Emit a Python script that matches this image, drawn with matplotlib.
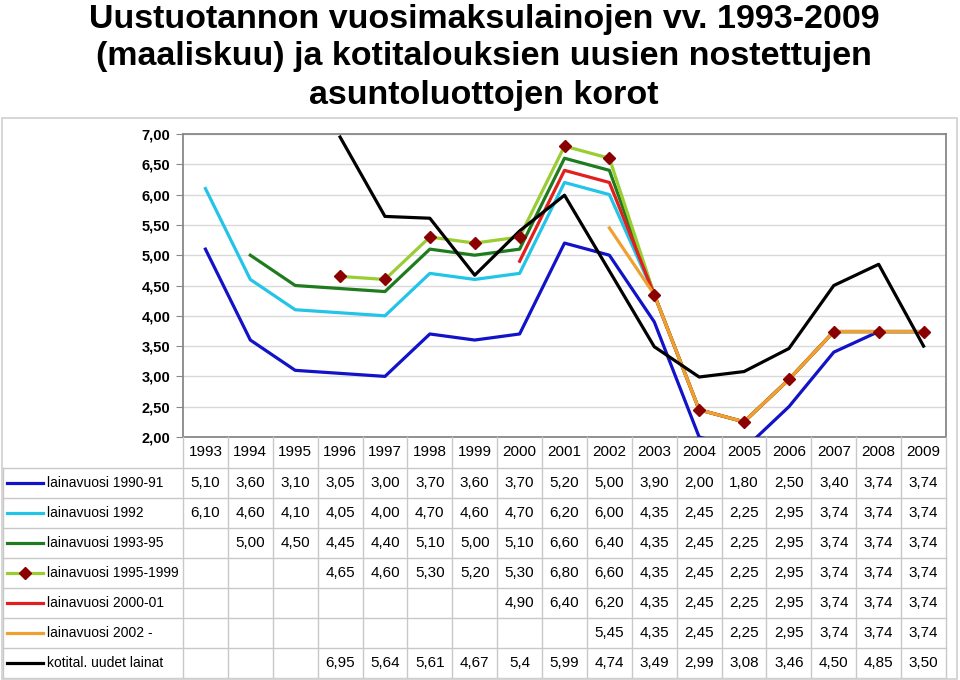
import numpy as np
import matplotlib
matplotlib.use("Agg")
import matplotlib.pyplot as plt
from matplotlib.patches import Rectangle

# --- data -------------------------------------------------------------
years = list(range(1993, 2010))
nan = np.nan

s_1990_91 = [5.10, 3.60, 3.10, 3.05, 3.00, 3.70, 3.60, 3.70, 5.20, 5.00, 3.90, 2.00, 1.80, 2.50, 3.40, 3.74, 3.74]
s_1992 = [6.10, 4.60, 4.10, 4.05, 4.00, 4.70, 4.60, 4.70, 6.20, 6.00, 4.35, 2.45, 2.25, 2.95, 3.74, 3.74, 3.74]
s_1993_95 = [nan, 5.00, 4.50, 4.45, 4.40, 5.10, 5.00, 5.10, 6.60, 6.40, 4.35, 2.45, 2.25, 2.95, 3.74, 3.74, 3.74]
s_1995_99 = [nan, nan, nan, 4.65, 4.60, 5.30, 5.20, 5.30, 6.80, 6.60, 4.35, 2.45, 2.25, 2.95, 3.74, 3.74, 3.74]
s_2000_01 = [nan, nan, nan, nan, nan, nan, nan, 4.90, 6.40, 6.20, 4.35, 2.45, 2.25, 2.95, 3.74, 3.74, 3.74]
s_2002 = [nan, nan, nan, nan, nan, nan, nan, nan, nan, 5.45, 4.35, 2.45, 2.25, 2.95, 3.74, 3.74, 3.74]
s_kotital = [nan, nan, nan, 6.95, 5.64, 5.61, 4.67, 5.4, 5.99, 4.74, 3.49, 2.99, 3.08, 3.46, 4.50, 4.85, 3.50]

names = ["lainavuosi 1990-91", "lainavuosi 1992", "lainavuosi 1993-95",
         "lainavuosi 1995-1999", "lainavuosi 2000-01", "lainavuosi 2002 -",
         "kotital. uudet lainat"]
series = [s_1990_91, s_1992, s_1993_95, s_1995_99, s_2000_01, s_2002, s_kotital]
colors = ["#1212C8", "#22C4E8", "#1E7B1E", "#9ACD32", "#E21F1F", "#F0A030", "#000000"]

title_lines = ["Uustuotannon vuosimaksulainojen vv. 1993-2009",
               "(maaliskuu) ja kotitalouksien uusien nostettujen",
               "asuntoluottojen korot"]


def fmt(v, name):
    # the table shows 5,4 (not 5,40) for one value of the last row
    if name == "kotital. uudet lainat" and v == 5.4:
        return "5,4"
    return ("%.2f" % v).replace(".", ",")


# --- layout (pixels) --------------------------------------------------
W, H = 960, 680
fx = lambda px: px / W
fy = lambda py: 1 - py / H
font = ["Liberation Sans", "DejaVu Sans"]
fs = 11

fig = plt.figure(figsize=(9.6, 6.8), dpi=100)

# outer chart frame
fig.patches.append(Rectangle((fx(2), fy(679)), fx(957) - fx(2), fy(118) - fy(679),
                             transform=fig.transFigure, fill=False,
                             edgecolor="#D0D0D0", lw=1.2))

for yb, txt in zip([28, 65, 104], title_lines):
    fig.text(fx(484), fy(yb), txt, ha="center", va="baseline",
             fontsize=24.5, fontweight="bold", family=font)

# chart
L, R, T, B = 183, 946, 134, 437
ax = fig.add_axes([fx(L), fy(B), fx(R) - fx(L), fy(T) - fy(B)])
x = np.arange(len(years))
for vals, c in zip(series, colors):
    ax.plot(x, vals, color=c, lw=2.3, zorder=3)
ax.plot(x, s_1995_99, ls="none", marker="D", ms=6.5, mfc="#8B0000",
        mec="#8B0000", zorder=6)

ax.set_xlim(-0.5, len(years) - 0.5)
ax.set_ylim(2, 7)
yt = np.arange(2, 7.01, 0.5)
ax.set_yticks(yt)
ax.set_yticklabels([("%.2f" % v).replace(".", ",") for v in yt],
                   fontsize=10.5, fontweight="bold", family=font)
ax.set_xticks([])
ax.tick_params(axis="y", length=5, color="#888888", pad=4)
ax.grid(axis="y", color="#D9D9D9", lw=1)
ax.set_axisbelow(True)
for sp in ax.spines.values():
    sp.set_color("#888888")
    sp.set_linewidth(1.3)

# data table under the chart
unit = (R - L) / len(years)
px2x = lambda px: -0.5 - (L - px) / unit
tax = fig.add_axes([fx(2), fy(678), fx(R) - fx(2), fy(B) - fy(678)])
tax.set_xlim(px2x(2), len(years) - 0.5)
tax.set_ylim(678, B)
tax.axis("off")

gc = "#C8C8C8"
row_tops = [468 + 30 * k for k in range(8)]
for yl in row_tops:
    tax.plot([px2x(3), len(years) - 0.5], [yl, yl], color=gc, lw=1, clip_on=False)
for k in range(len(years) + 1):
    tax.plot([k - 0.5, k - 0.5], [B, 678], color=gc, lw=1, clip_on=False)
tax.plot([px2x(3), px2x(3)], [468, 678], color=gc, lw=1, clip_on=False)

for i, yr in enumerate(years):
    tax.text(i, 452, str(yr), ha="center", va="center", fontsize=fs, family=font)

for r, (name, vals, c) in enumerate(zip(names, series, colors)):
    yc = 483 + 30 * r
    tax.plot([px2x(7), px2x(43)], [yc, yc], color=c, lw=2.3, clip_on=False)
    if name == "lainavuosi 1995-1999":
        tax.plot([px2x(25)], [yc], ls="none", marker="D", ms=6.5,
                 mfc="#8B0000", mec="#8B0000", clip_on=False)
    tax.text(px2x(47), yc, name, ha="left", va="center", fontsize=10, family=font)
    for i, v in enumerate(vals):
        if not np.isnan(v):
            tax.text(i, yc, fmt(v, name), ha="center", va="center",
                     fontsize=fs, family=font)

fig.savefig("out.png", dpi=100)
